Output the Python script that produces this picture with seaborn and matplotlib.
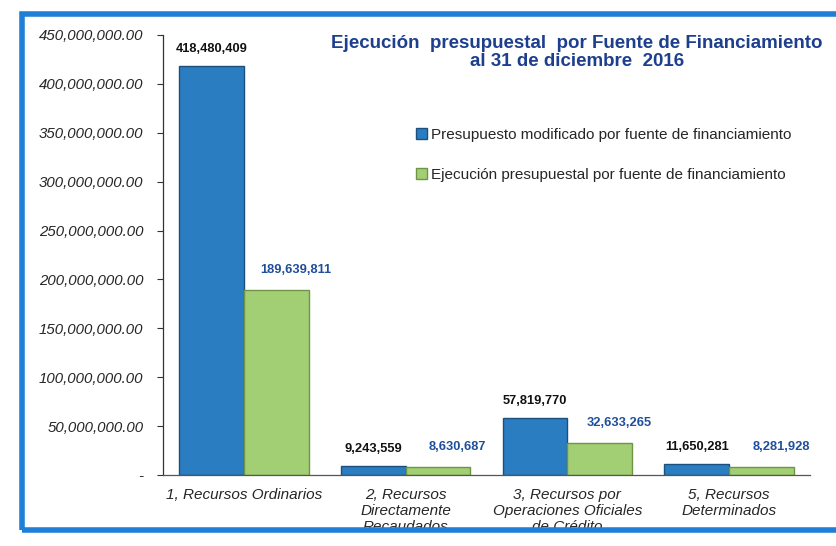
import matplotlib
matplotlib.use('Agg')
import matplotlib.pyplot as plt
from matplotlib.patches import Rectangle
import pandas as pd
import seaborn as sns

categories = [
    "1, Recursos Ordinarios",
    "2, Recursos\nDirectamente\nRecaudados",
    "3, Recursos por\nOperaciones Oficiales\nde Crédito",
    "5, Recursos\nDeterminados",
]
series_names = [
    "Presupuesto modificado por fuente de financiamiento",
    "Ejecución presupuestal por fuente de financiamiento",
]
presupuesto = [418480409, 9243559, 57819770, 11650281]
ejecucion = [189639811, 8630687, 32633265, 8281928]
y_ticks = [0, 50e6, 100e6, 150e6, 200e6, 250e6, 300e6, 350e6, 400e6, 450e6]
title = "Ejecución  presupuestal  por Fuente de Financiamiento\nal 31 de diciembre  2016"

colors = ["#2A7DC0", "#A3CF74"]
edge_colors = ["#1B4F7E", "#6F9446"]
label_colors = ["#111111", "#1F4E9A"]

df = pd.DataFrame({
    "categoria": categories * 2,
    "serie": [series_names[0]] * 4 + [series_names[1]] * 4,
    "valor": presupuesto + ejecucion,
})

sns.set_style("white")
plt.rcParams['font.family'] = ['Liberation Sans', 'DejaVu Sans']

fig = plt.figure(figsize=(8.36, 5.46), dpi=100)
ax = fig.add_axes([0.195, 0.13, 0.774, 0.806])

sns.barplot(data=df, x="categoria", y="valor", hue="serie",
            palette=colors, width=0.8, saturation=1, ax=ax, legend=True)

for i, cont in enumerate(ax.containers):
    for bar in cont:
        bar.set_edgecolor(edge_colors[i])
        bar.set_linewidth(1.0)
    vals = presupuesto if i == 0 else ejecucion
    for bar, v in zip(cont, vals):
        dx = 0 if i == 0 else 14
        dy = 8 if i == 0 else 10
        ax.annotate(f"{v:,}", (bar.get_x() + bar.get_width() / 2, bar.get_height()),
                    xytext=(dx, dy), textcoords="offset points",
                    ha="center", va="bottom", fontsize=9.3, fontweight="bold",
                    color=label_colors[i])

ax.set_ylim(0, 450e6)
ax.set_xlim(-0.5, 3.5)
ax.set_yticks(y_ticks)
ax.set_yticklabels(["-" if v == 0 else f"{v:,.2f}" for v in y_ticks],
                   fontsize=10.8, fontstyle="italic")
ax.tick_params(axis="y", length=4, width=0.8, color="#333333", direction="out", left=True, pad=10)
ax.tick_params(axis="x", length=0, pad=9)
for lbl in ax.get_xticklabels():
    lbl.set_fontstyle("italic")
    lbl.set_fontsize(11)
    lbl.set_va("top")
ax.set_xlabel("")
ax.set_ylabel("")

for side in ["top", "right"]:
    ax.spines[side].set_visible(False)
ax.spines["left"].set_color("#333333")
ax.spines["bottom"].set_color("#555555")
ax.spines["left"].set_linewidth(0.9)
ax.spines["bottom"].set_linewidth(0.9)

leg = ax.legend(loc="upper left", bbox_to_anchor=(0.37, 0.82), frameon=False,
                fontsize=11, handlelength=0.7, handleheight=0.7,
                handletextpad=0.3, labelspacing=1.7)
for h, ec in zip(leg.legend_handles, edge_colors):
    h.set_edgecolor(ec)

fig.text(0.69, 0.935, title, ha="center", va="top", fontsize=13.5,
         fontweight="bold", color="#1D3F8E", linespacing=1.05)

frame = Rectangle((0.026, 0.03), 1.1, 0.945, transform=fig.transFigure,
                  fill=False, edgecolor="#1F7FD6", linewidth=4, zorder=10)
fig.patches.append(frame)

fig.savefig("out.png", dpi=100)
plt.close('all')
